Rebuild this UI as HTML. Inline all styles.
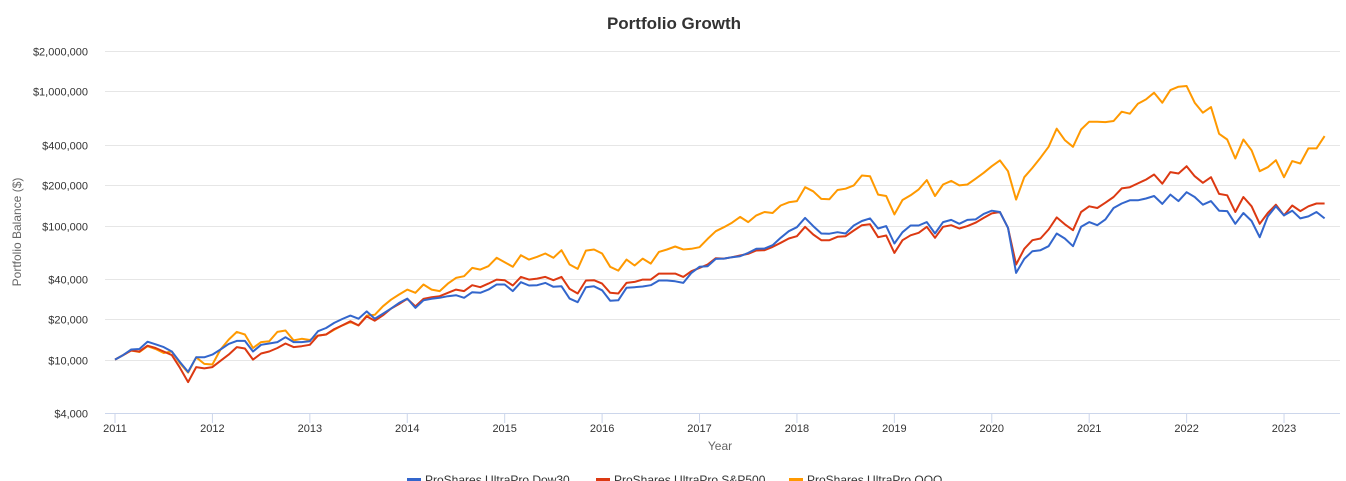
<!DOCTYPE html>
<html><head><meta charset="utf-8">
<style>
html,body{margin:0;padding:0;background:#fff;overflow:hidden;}
svg{display:block;font-family:"Liberation Sans",Arial,sans-serif;}
</style></head>
<body>
<svg id="chart" width="1346" height="481" viewBox="0 0 1346 481" xmlns="http://www.w3.org/2000/svg">
  <text x="674" y="29" text-anchor="middle" font-size="17" font-weight="bold" fill="#333">Portfolio Growth</text>
  <text transform="translate(21,232) rotate(-90)" text-anchor="middle" font-size="12" fill="#666">Portfolio Balance ($)</text>
  <text x="720" y="450" text-anchor="middle" font-size="12" fill="#666">Year</text>
  <g id="grid"></g>
  <g id="yticks"></g>
  <g id="xticks"></g>
  <line x1="105" y1="413.5" x2="1340" y2="413.5" stroke="#ccd6eb" stroke-width="1"/>
  <g id="series"></g>
  <g>
    <g>
      <rect x="407" y="478" width="14" height="3" fill="#3366cc"/>
      <text x="425" y="484" font-size="12" fill="#333">ProShares UltraPro Dow30</text>
    </g>
    <g>
      <rect x="596" y="478" width="14" height="3" fill="#dc3912"/>
      <text x="614" y="484" font-size="12" fill="#333">ProShares UltraPro S&amp;P500</text>
    </g>
    <g>
      <rect x="789" y="478" width="14" height="3" fill="#ff9900"/>
      <text x="807" y="484" font-size="12" fill="#333">ProShares UltraPro QQQ</text>
    </g>
  </g>
</svg>
<script>
const yTickValues = [4000, 10000, 20000, 40000, 100000, 200000, 400000, 1000000, 2000000];
const yTickLabels = ["$4,000","$10,000","$20,000","$40,000","$100,000","$200,000","$400,000","$1,000,000","$2,000,000"];
const xTickYears = [2011,2012,2013,2014,2015,2016,2017,2018,2019,2020,2021,2022,2023];
const startYear = 2011;
const seriesNames = ["ProShares UltraPro Dow30","ProShares UltraPro S&P500","ProShares UltraPro QQQ"];
// values in thousands of dollars, monthly from Jan 2011
const dow30 = [10.0,10.8,11.9,12.0,13.6,13.0,12.4,11.5,9.6,8.1,10.4,10.4,10.9,11.9,13.1,13.8,13.8,11.5,12.9,13.2,13.5,14.7,13.5,13.5,13.7,16.3,17.2,18.8,20.1,21.3,20.2,22.9,20.2,22.0,24.0,26.5,28.5,24.3,
27.7,28.4,28.9,29.7,30.2,28.9,31.8,31.5,33.3,36.3,36.3,32.4,37.8,35.7,35.9,37.3,34.9,35.2,28.5,26.8,34.7,35.2,32.9,27.5,27.7,34.3,34.7,35.1,35.9,38.9,38.9,38.4,37.3,44.3,49.2,49.7,56.4,
56.7,58.0,59.0,62.5,67.0,67.3,71.3,80.9,90.7,97.2,114,98.9,87.2,86.8,89.2,87.2,100,108,113,95.0,98.9,73.4,89.2,100,100,106,87.2,106,110,103,110,111,122,129,126,96.2,44.3,56.4,
64.3,65.4,70.1,87.2,80.0,70.1,97.8,106,100.5,111,135,146,154,154,159,166,145,170,152,177,163,143,152,129,128,103,124,108,81.8,117,139,119,129,113,117,126,113];
const sp500 = [10.0,10.8,11.7,11.5,12.7,12.2,11.5,10.8,8.7,6.8,8.8,8.6,8.8,9.8,10.9,12.4,12.1,10.0,11.1,11.5,12.2,13.2,12.4,12.6,12.9,15.1,15.4,16.9,18.0,19.3,18.0,21.0,19.5,21.4,24.0,26.0,28.4,25.0,
28.4,29.2,29.7,31.5,33.3,32.4,35.9,34.7,36.9,39.5,39.1,35.7,41.4,39.5,40.2,41.4,39.1,41.4,33.7,31.1,38.9,39.1,36.9,31.5,31.1,37.3,38.0,39.5,39.5,43.8,43.8,43.8,41.4,45.6,48.3,51.2,57.0,
56.7,58.0,59.7,61.5,65.1,65.4,69.3,74.3,80.0,83.2,97.8,85.7,77.7,77.7,82.3,83.2,91.8,100.5,102,81.8,84.2,62.5,77.7,84.5,88.2,97.8,80.9,97.8,100.5,95.0,98.9,105,114,123,126,96.2,51.2,67.0,
77.7,80.0,93.4,115,102,92.3,126,139,135,148,163,189,193,206,220,240,205,250,244,277,233,208,229,172,168,126,163,139,103,124,143,119,141,128,139,146,146];
const qqq = [10.0,10.8,11.7,11.4,12.6,12.0,11.2,11.5,9.4,8.0,10.4,9.3,9.2,11.9,14.1,16.1,15.4,12.2,13.5,13.7,16.1,16.5,13.9,14.3,14.0,15.1,15.4,16.7,18.0,19.1,18.0,21.3,21.6,25.0,28.0,30.6,33.3,31.5,
36.3,33.3,32.4,36.9,40.7,41.9,48.3,46.9,49.7,57.4,53.3,49.2,60.1,55.7,58.4,61.8,57.4,65.4,51.2,47.5,65.0,66.2,61.8,49.2,46.1,55.7,50.3,56.7,52.0,63.6,66.2,69.7,66.2,67.0,68.9,79.4,90.7,
97.2,105,116,106,119,126,124,141,149,152,193,180,158,157,184,188,199,236,233,170,166,121,155,168,186,218,166,202,215,199,202,223,247,277,306,254,156,229,
269,320,386,527,433,386,520,594,594,590,601,705,682,809,871,977,824,1023,1084,1096,824,693,764,483,438,316,438,363,254,272,307,229,302,290,376,376,464];

const NS = "http://www.w3.org/2000/svg";
const X0 = 115, PX_PER_YEAR = 97.42;
const Y_BOTTOM = 413, Y_TOP = 51, LOG_MIN = Math.log10(4000), LOG_MAX = Math.log10(2000000);
function xScale(monthIndex){ return X0 + PX_PER_YEAR * monthIndex / 12; }
function xYear(yr){ return X0 + PX_PER_YEAR * (yr - startYear); }
function yScale(v){ return Y_BOTTOM - (Math.log10(v) - LOG_MIN) / (LOG_MAX - LOG_MIN) * (Y_BOTTOM - Y_TOP); }

const grid = document.getElementById('grid');
const yt = document.getElementById('yticks');
yTickValues.forEach((v, i) => {
  const y = Math.round(yScale(v)) + 0.5;
  if (i > 0) {
    const l = document.createElementNS(NS, 'line');
    
    
    l.setAttribute('x1', 105); l.setAttribute('x2', 1340);
    l.setAttribute('y1', y); l.setAttribute('y2', y);
    l.setAttribute('stroke', '#e6e6e6'); l.setAttribute('stroke-width', '1');
    grid.appendChild(l);
  }
  const t = document.createElementNS(NS, 'text');
  
  
  t.setAttribute('x', 88); t.setAttribute('y', y + 4);
  t.setAttribute('text-anchor', 'end'); t.setAttribute('font-size', '11'); t.setAttribute('fill', '#333');
  t.textContent = yTickLabels[i];
  yt.appendChild(t);
});
const xt = document.getElementById('xticks');
xTickYears.forEach(yr => {
  const x = xYear(yr);
  const tk = document.createElementNS(NS, 'line');
  
  
  tk.setAttribute('x1', x); tk.setAttribute('x2', x); tk.setAttribute('y1', 413); tk.setAttribute('y2', 423);
  tk.setAttribute('stroke', '#ccd6eb');
  xt.appendChild(tk);
  const t = document.createElementNS(NS, 'text');
  
  
  t.setAttribute('x', x); t.setAttribute('y', 432);
  t.setAttribute('text-anchor', 'middle'); t.setAttribute('font-size', '11'); t.setAttribute('fill', '#333');
  t.textContent = yr;
  xt.appendChild(t);
});
const sg = document.getElementById('series');
function drawSeries(data, color, name){
  const pts = data.map((v, i) => xScale(i).toFixed(1) + ',' + yScale(v * 1000).toFixed(1)).join(' ');
  const p = document.createElementNS(NS, 'polyline');
  
  
  p.setAttribute('points', pts);
  p.setAttribute('fill', 'none'); p.setAttribute('stroke', color);
  p.setAttribute('stroke-width', '2'); p.setAttribute('stroke-linejoin', 'round');
  sg.appendChild(p);
}
drawSeries(qqq, '#ff9900', 'qqq-line');
drawSeries(sp500, '#dc3912', 'sp500-line');
drawSeries(dow30, '#3366cc', 'dow30-line');
</script>
</body></html>
